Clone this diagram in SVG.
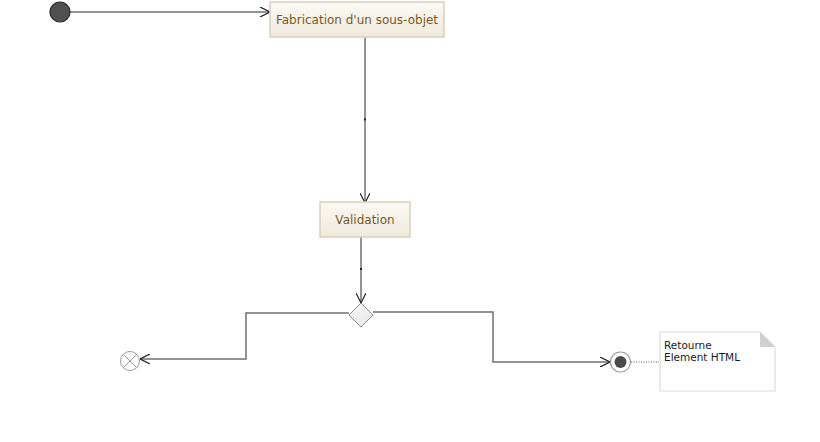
<svg xmlns="http://www.w3.org/2000/svg" width="820" height="442" viewBox="0 0 820 442">
<defs>
<linearGradient id="boxg" x1="0" y1="0" x2="0" y2="1">
<stop offset="0" stop-color="#fbf9f4"/>
<stop offset="1" stop-color="#efe9dc"/>
</linearGradient>
<linearGradient id="dg" x1="0" y1="0" x2="1" y2="1">
<stop offset="0" stop-color="#fafafa"/>
<stop offset="1" stop-color="#e4e4e4"/>
</linearGradient>
<marker id="arr" viewBox="0 0 10 10" refX="10" refY="5" markerWidth="10" markerHeight="10" markerUnits="userSpaceOnUse" orient="auto">
<path d="M0,0 L10,5 L0,10" fill="none" stroke="#222" stroke-width="1.2"/>
</marker>
</defs>
<style>
.box{fill:url(#boxg);stroke:#d8d0bc;stroke-width:1.5}
.lbl{font-family:"DejaVu Sans","Liberation Sans",sans-serif;font-size:12px;fill:#7a5a1e;text-anchor:middle}
.edge{fill:none;stroke:#707070;stroke-width:1.5}
.note{font-family:"DejaVu Sans","Liberation Sans",sans-serif;font-size:10.5px;fill:#1a1a1a}
</style>
<rect width="820" height="442" fill="#ffffff"/>
<g id="connectors">
<path class="edge" d="M70,12 L270,12" marker-end="url(#arr)"/>
<path class="edge" d="M365,37 L365,203" marker-end="url(#arr)"/>
<rect x="364" y="118.5" width="2" height="2" fill="#222"/>
<path class="edge" d="M361,237 L361,303" marker-end="url(#arr)"/>
<rect x="360" y="268" width="2" height="2" fill="#222"/>
<path class="edge" d="M349,313 L246,313 L246,359 L140,359" marker-end="url(#arr)"/>
<path class="edge" d="M373,312 L493,312 L493,362 L610,362" marker-end="url(#arr)"/>
<path d="M631,362 L659,362" fill="none" stroke="#555" stroke-width="1" stroke-dasharray="1,1.5"/>
</g>
<g id="start">
<circle cx="60" cy="12" r="10" fill="#505050" stroke="#2a2a2a" stroke-width="1.2"/>
</g>
<g id="fabrication">
<rect class="box" x="270" y="2" width="174" height="35"/>
<text class="lbl" x="357" y="24">Fabrication d'un sous-objet</text>
</g>
<g id="validation">
<rect class="box" x="320" y="202" width="90" height="35"/>
<text class="lbl" x="365" y="224">Validation</text>
</g>
<g id="decision">
<polygon points="361,303 373,315 361,327 349,315" fill="url(#dg)" stroke="#8a8a8a" stroke-width="1"/>
</g>
<g id="flowfinal">
<circle cx="130" cy="361" r="9.5" fill="#ffffff" stroke="#9a9a9a" stroke-width="1"/>
<path d="M123.3,354.3 L136.7,367.7 M136.7,354.3 L123.3,367.7" stroke="#9a9a9a" stroke-width="1"/>
</g>
<g id="final">
<circle cx="620.5" cy="362" r="10" fill="#ffffff" stroke="#9a9a9a" stroke-width="1.2"/>
<circle cx="620.5" cy="362" r="6" fill="#4a4a4a"/>
</g>
<g id="note">
<path d="M660,332 L760,332 L775,347 L775,391 L660,391 Z" fill="#ffffff" stroke="#dcdcdc" stroke-width="1.2"/>
<path d="M760,332 L775,347 L760,347 Z" fill="#d0d0d0"/>
<text class="note" x="664" y="349">Retourne</text>
<text class="note" x="664" y="361">Element HTML</text>
</g>
</svg>
